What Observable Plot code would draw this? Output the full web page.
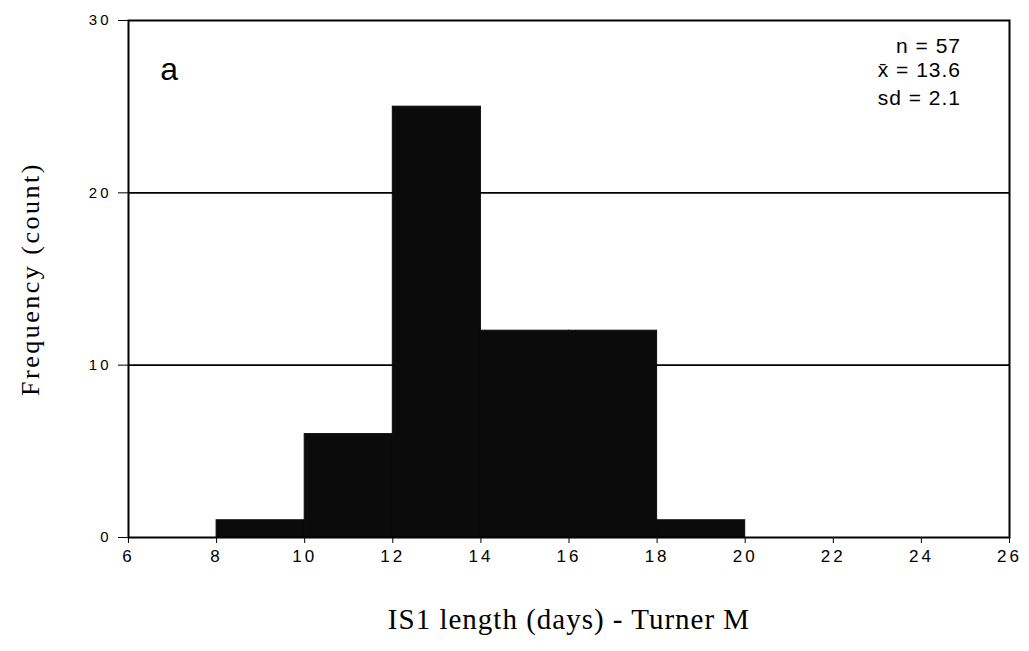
<!DOCTYPE html>
<html><head><meta charset="utf-8">
<script src="https://cdn.jsdelivr.net/npm/d3@7"></script>
<script src="https://cdn.jsdelivr.net/npm/@observablehq/plot@0.6"></script>
<style>
body{margin:0;background:#fff}
g[aria-label="x-axis tick label"] text{letter-spacing:3px}
g[aria-label="y-axis tick label"] text{letter-spacing:3px}
</style></head><body><div id="chart"></div>
<script>
// Data
const binStart = [8, 10, 12, 14, 16, 18];
const binEnd   = [10, 12, 14, 16, 18, 20];
const counts   = [1, 6, 25, 12, 12, 1];
const xTicks = [6, 8, 10, 12, 14, 16, 18, 20, 22, 24, 26];
const yTicks = [0, 10, 20, 30];
const gridLines = [10, 20];
const panelLabel = "a";
const statsLines = ["n = 57", "x\u0304 = 13.6", "sd = 2.1"];
const statsY = [28.5, 27.1, 25.5];
const xLabel = "IS1 length (days) - Turner M";
const yLabel = "Frequency (count)";

const bins = binStart.map((s, i) => ({x1: s, x2: binEnd[i], count: counts[i]}));
const stats = statsLines.map((t, i) => ({t, y: statsY[i]}));

const serif = "'Liberation Serif', 'Times New Roman', serif";
const sans = "'Liberation Sans', Arial, sans-serif";

const chart = Plot.plot({
  width: 1029, height: 651,
  marginLeft: 128, marginRight: 20, marginTop: 20, marginBottom: 114,
  style: {background: "#fff", fontFamily: sans, color: "#000"},
  x: {domain: [6, 26]},
  y: {domain: [0, 30]},
  marks: [
    Plot.ruleY(gridLines, {stroke: "#000", strokeWidth: 1.6}),
    Plot.rectY(bins, {x1: "x1", x2: "x2", y: "count", fill: "#0b0b0b", stroke: "#0b0b0b", strokeWidth: 1}),
    Plot.frame({stroke: "#000", strokeWidth: 2}),
    Plot.axisX({ticks: xTicks, tickSize: 6, tickPadding: 6, fontSize: 17, label: null}),
    Plot.axisY({ticks: yTicks, tickSize: 10, tickPadding: 7, fontSize: 15, label: null}),
    Plot.text([panelLabel], {x: 6.92, y: 27.15, text: d => d, fontSize: 32, fontFamily: sans}),
    Plot.text(stats, {x: 24.9, y: "y", text: "t", textAnchor: "end", fontSize: 21, fontFamily: sans}),
    Plot.text([xLabel], {frameAnchor: "bottom", dy: 91, text: d => d, fontSize: 29, fontFamily: serif}),
    Plot.text([yLabel], {frameAnchor: "left", dx: -98, rotate: -90, textAnchor: "middle", text: d => d, fontSize: 26, fontFamily: serif})
  ]
});
chart.querySelectorAll('g[aria-label="text"]').forEach(g => {
  const t = g.querySelector("text");
  if (t && t.textContent === yLabel) g.setAttribute("letter-spacing", "2.5px");
  if (t && t.textContent === xLabel) g.setAttribute("letter-spacing", "1px");
  if (t && t.textContent === statsLines[0]) g.setAttribute("letter-spacing", "1px");
});
document.getElementById("chart").append(chart);
</script>
</body></html>
